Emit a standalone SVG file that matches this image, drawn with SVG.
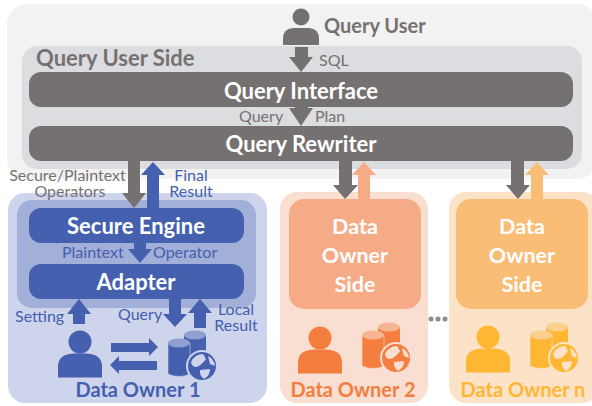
<svg xmlns="http://www.w3.org/2000/svg" width="592" height="406" viewBox="0 0 592 406">
<style>
text{font-family:Lato,"Open Sans","Liberation Sans",sans-serif}
.b{font-weight:700}
.m{text-anchor:middle}
.w{fill:#fff}
.gr{fill:#767171}
.bl{fill:#4460ae}
.or{fill:#f47e3f}
.ye{fill:#ffb733}
.ao{fill:#f6ab87}
.ay{fill:#f9bd76}
.h1{font-size:20px}
.h2{font-size:22px}
.h3{font-size:21.5px}
.l{font-size:16px}
</style>
<defs>
<symbol id="person" overflow="visible"><circle cx="22" cy="11.5" r="11.5" fill="currentColor"/><path d="M0,47V36Q0,24 15,23H29Q44,24 44,36V47Z" fill="currentColor"/></symbol>
<symbol id="db" overflow="visible">
<path d="M16,4V30H38V4Z" fill="currentColor"/><ellipse cx="27" cy="4" rx="11" ry="4.5" fill="var(--top)"/>
<path d="M0,12V43Q11,48 22,43V12Z" fill="currentColor" stroke="var(--bg)" stroke-width="0.6"/><ellipse cx="11" cy="12" rx="11" ry="4.5" fill="var(--top)"/>
<circle cx="34" cy="35" r="15" fill="currentColor" stroke="var(--bg)" stroke-width="2"/>
<path d="M23,31Q27,23 35,23L38,28Q33,35 28,36Q24,36 23,31ZM40,25Q46,28 47,35L42,33ZM32,39L42,38Q42,45 36,48Q31,44 32,39Z" fill="var(--bg)"/>
</symbol>
</defs>
<rect x="7" y="4" width="590" height="175" rx="20" fill="#f2f2f2"/>
<rect id="owner1-bg" x="8" y="193" width="259" height="210" rx="17" fill="#cdd4ec"/>
<rect id="owner2-bg" x="280" y="192" width="148" height="211" rx="17" fill="#f9dfd2"/>
<rect id="ownern-bg" x="449" y="192" width="150" height="211" rx="17" fill="#fce3c8"/>
<g id="query-user-side"><rect x="22" y="46" width="560" height="123" rx="15" fill="#dcdde0"/><text x="36" y="66" class="b gr" font-size="22">Query User Side</text></g>
<g id="query-interface"><rect x="29" y="72" width="544" height="35" rx="12" class="gr"/><text x="301" y="99" class="b m w h2">Query Interface</text></g>
<g id="query-rewriter"><rect x="29" y="126" width="544" height="35" rx="12" class="gr"/><text x="301" y="152" class="b m w h2">Query Rewriter</text></g>
<g id="secure-box"><rect x="17" y="200" width="239" height="108" rx="15" fill="#a1afd9"/></g>
<g id="secure-engine"><rect x="29" y="208" width="215" height="35" rx="12" class="bl"/><text x="136" y="234" class="b m w h2">Secure Engine</text></g>
<g id="adapter"><rect x="29" y="264" width="215" height="35" rx="12" class="bl"/><text x="136" y="290" class="b m w h2">Adapter</text></g>
<g id="data-owner-side-2"><rect x="289" y="199" width="132" height="110" rx="15" class="ao"/><text class="b m w h3"><tspan x="355" y="234">Data</tspan><tspan x="355" y="263">Owner</tspan><tspan x="355" y="292">Side</tspan></text></g>
<g id="data-owner-side-n"><rect x="456" y="199" width="132" height="110" rx="15" class="ay"/><text class="b m w h3"><tspan x="522" y="234">Data</tspan><tspan x="522" y="263">Owner</tspan><tspan x="522" y="292">Side</tspan></text></g>
<g id="connectors">
<path class="gr" d="M295,47H308V57H313L301,72L289,57H295Z"/>
<path class="gr" d="M295,107H308V108H313L301,126L289,108H295Z"/>
<path class="gr" d="M128,161H140V193H146L134,208L122,193H128Z"/>
<path class="bl" d="M147,208V175H141L153,162L165,175H159V208Z"/>
<path class="gr" d="M339,161H352V185H358L345,199L333,185H339Z"/>
<path class="ao" d="M358,199V175H352L364,162L376,175H370V199Z"/>
<path class="gr" d="M511,161H524V185H530L518,199L506,185H511Z"/>
<path class="ay" d="M531,199V175H525L537,162L549,175H543V199Z"/>
<path class="bl" d="M134,243H146V249H152L140,263L128,249H134Z"/>
<path class="bl" d="M73,324V314H67L79,299L91,314H85V324Z"/>
<path class="bl" d="M169,299H181V314H187L175,327L163,314H169Z"/>
<path class="bl" d="M194,328V313H188L200,299L212,313H206V328Z"/>
<path class="bl" d="M111,343H149V338L158,347L149,356V352H111Z"/>
<path class="bl" d="M157,361H119V356L110,365L119,374V370H157Z"/>
</g>
<g id="query-user"><circle cx="301" cy="17" r="8.5" class="gr"/><path class="gr" d="M283,45V38Q283,29 293,28H309Q319,29 319,38V45Z"/><text x="324" y="33" class="b gr" font-size="20">Query User</text></g>
<g id="edge-labels">
<text x="319" y="66" class="l gr">SQL</text>
<text x="239" y="122" class="l gr">Query</text>
<text x="315" y="122" class="l gr">Plan</text>
<text class="l gr m"><tspan x="67.5" y="181" font-size="16">Secure/Plaintext</tspan><tspan x="70" y="197">Operators</tspan></text>
<text class="l bl m"><tspan x="191" y="181">Final</tspan><tspan x="191" y="197">Result</tspan></text>
<text x="62" y="258" class="l bl">Plaintext</text>
<text x="153" y="258" class="l bl">Operator</text>
<text x="15" y="322" class="l bl">Setting</text>
<text x="118" y="320" class="l bl">Query</text>
<text class="l bl m"><tspan x="236" y="315">Local</tspan><tspan x="236" y="331">Result</tspan></text>
</g>
<g id="data-owner-1" style="color:#4460ae;--top:#8fa0d0;--bg:#cdd4ec"><use href="#person" x="58" y="330.5"/><use href="#db" x="168" y="331"/><text x="138" y="397" class="b m bl h1">Data Owner 1</text></g>
<g id="data-owner-2" style="color:#f47e3f;--top:#f6b592;--bg:#f9dfd2"><use href="#person" x="298" y="326.5"/><use href="#db" x="362" y="323"/><text x="353" y="397" class="b m or h1">Data Owner 2</text></g>
<g id="data-owner-n" style="color:#ffb733;--top:#fbd08f;--bg:#fce3c8"><use href="#person" x="466" y="325.5"/><use href="#db" x="530" y="323"/><text x="523" y="397" class="b m ye h1">Data Owner n</text></g>
<g id="ellipsis" fill="#8c8c94"><circle cx="431" cy="319" r="2.5"/><circle cx="438" cy="319" r="2.5"/><circle cx="445" cy="319" r="2.5"/></g>
</svg>
